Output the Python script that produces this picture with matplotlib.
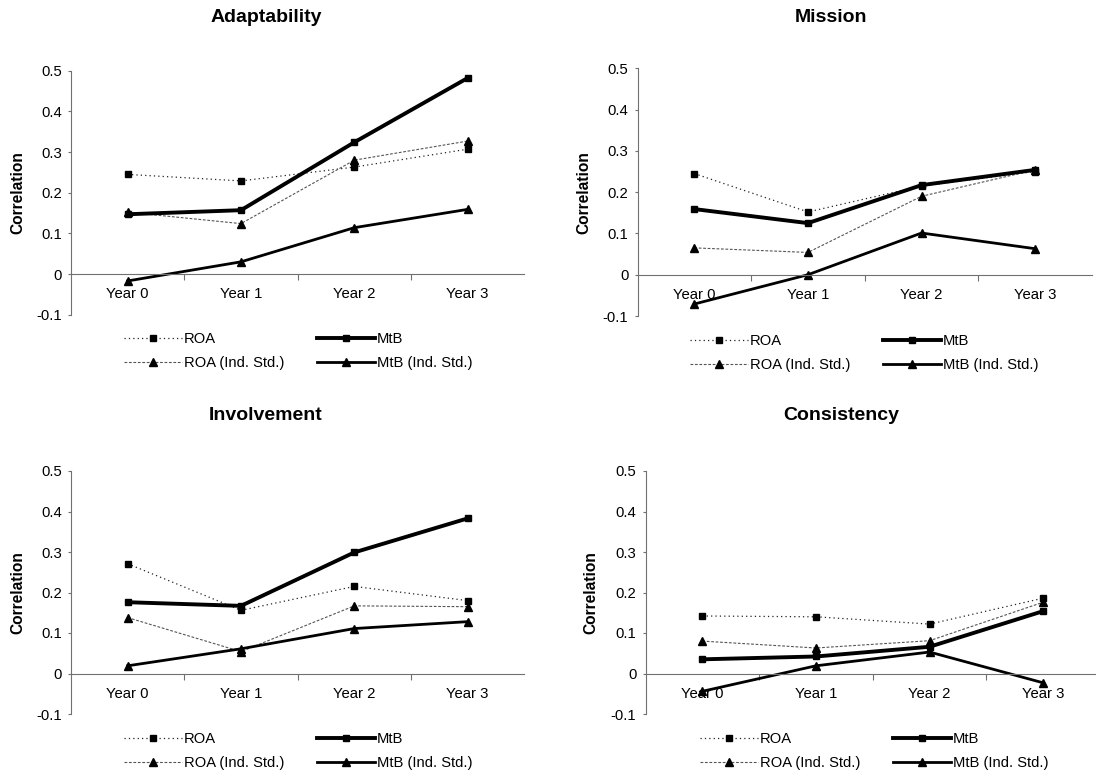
import numpy as np
import matplotlib
matplotlib.use('Agg')
import matplotlib.pyplot as plt
from matplotlib.ticker import FixedLocator, FuncFormatter

plt.rcParams['font.family'] = ['Liberation Sans', 'DejaVu Sans']

years = ['Year 0', 'Year 1', 'Year 2', 'Year 3']
titles = ['Adaptability', 'Mission', 'Involvement', 'Consistency']
series_names = ['ROA', 'ROA (Ind. Std.)', 'MtB', 'MtB (Ind. Std.)']

# values, one list per panel and series
adapt_roa = [0.245, 0.229, 0.263, 0.307]
adapt_roa_ind = [0.152, 0.124, 0.280, 0.327]
adapt_mtb = [0.147, 0.157, 0.324, 0.482]
adapt_mtb_ind = [-0.017, 0.030, 0.114, 0.159]

mission_roa = [0.245, 0.152, 0.215, 0.250]
mission_roa_ind = [0.065, 0.054, 0.190, 0.254]
mission_mtb = [0.159, 0.125, 0.217, 0.254]
mission_mtb_ind = [-0.071, 0.000, 0.101, 0.063]

invol_roa = [0.271, 0.156, 0.215, 0.180]
invol_roa_ind = [0.138, 0.054, 0.167, 0.165]
invol_mtb = [0.176, 0.167, 0.299, 0.383]
invol_mtb_ind = [0.019, 0.061, 0.111, 0.128]

consist_roa = [0.142, 0.140, 0.122, 0.186]
consist_roa_ind = [0.080, 0.063, 0.081, 0.176]
consist_mtb = [0.035, 0.042, 0.066, 0.154]
consist_mtb_ind = [-0.044, 0.019, 0.053, -0.023]

panels = [
    [adapt_roa, adapt_roa_ind, adapt_mtb, adapt_mtb_ind],
    [mission_roa, mission_roa_ind, mission_mtb, mission_mtb_ind],
    [invol_roa, invol_roa_ind, invol_mtb, invol_mtb_ind],
    [consist_roa, consist_roa_ind, consist_mtb, consist_mtb_ind],
]

styles = [
    dict(color='#222222', lw=0.9, ls=(0, (1, 2.5)), marker='s', ms=4.6, mfc='black', mec='black'),
    dict(color='#555555', lw=0.8, ls=(0, (2.5, 1.5)), marker='^', ms=6.2, mfc='black', mec='black'),
    dict(color='black', lw=2.8, ls='-', marker='s', ms=4.6),
    dict(color='black', lw=2.0, ls='-', marker='^', ms=6.2),
]

W, H = 1096, 776
# axes boxes in pixels: left, top, right, bottom
boxes_px = [
    (71, 70.7, 524.3, 314.7),
    (637.5, 68.3, 1092, 316),
    (71, 471, 524.3, 714),
    (645.5, 471, 1100, 714),
]
title_px = [(266, 17), (831, 17), (266, 416), (841, 416)]
ylabel_px = [17.5, 583.5, 17.5, 591]
legend_px = [(124, 332), (690, 334), (124, 732), (700, 732)]

fig = plt.figure(figsize=(W / 100, H / 100), dpi=100)
axis_col = '#707070'
x = np.arange(len(years)) + 0.5

for i, data in enumerate(panels):
    l, t, r, b = boxes_px[i]
    ax = fig.add_axes([l / W, 1 - b / H, (r - l) / W, (b - t) / H])
    handles = []
    for vals, st in zip(data, styles):
        h, = ax.plot(x, vals, clip_on=False, **st)
        handles.append(h)

    ax.set_xlim(0, 4)
    ax.set_ylim(-0.1, 0.5)
    for s in ['top', 'right']:
        ax.spines[s].set_visible(False)
    ax.spines['bottom'].set_position(('data', 0))
    ax.spines['bottom'].set_color(axis_col)
    ax.spines['left'].set_color(axis_col)

    ax.yaxis.set_major_locator(FixedLocator([-0.1, 0, 0.1, 0.2, 0.3, 0.4, 0.5]))
    ax.yaxis.set_major_formatter(FuncFormatter(lambda v, p: f'{v:g}'))
    ax.tick_params(axis='y', direction='out', length=2.5, color=axis_col,
                   labelsize=10.7, pad=4)

    ax.xaxis.set_major_locator(FixedLocator([1, 2, 3]))
    ax.xaxis.set_major_formatter(FuncFormatter(lambda v, p: ''))
    ax.xaxis.set_minor_locator(FixedLocator(x))
    ax.set_xticklabels(years, minor=True)
    ax.tick_params(axis='x', which='major', direction='out', length=4.3, color=axis_col)
    ax.tick_params(axis='x', which='minor', length=0, labelsize=10.7, pad=9.5)

    fig.text(title_px[i][0] / W, 1 - title_px[i][1] / H, titles[i], ha='center',
             va='center', fontsize=14, fontweight='bold')
    ax.set_ylabel('Correlation', fontsize=11.2, fontweight='bold')
    ax.yaxis.label.set_va('center')
    ax.yaxis.set_label_coords(ylabel_px[i] / W, 1 - (t + b) / 2 / H,
                              transform=fig.transFigure)

    fig.legend(handles, series_names, loc='upper left',
               bbox_to_anchor=(legend_px[i][0] / W, 1 - legend_px[i][1] / H),
               ncol=2, frameon=False, fontsize=10.6, handlelength=3.95,
               columnspacing=2.25, handletextpad=0.1, labelspacing=0.7,
               borderpad=0, borderaxespad=0)

fig.savefig('out.png', dpi=100)
